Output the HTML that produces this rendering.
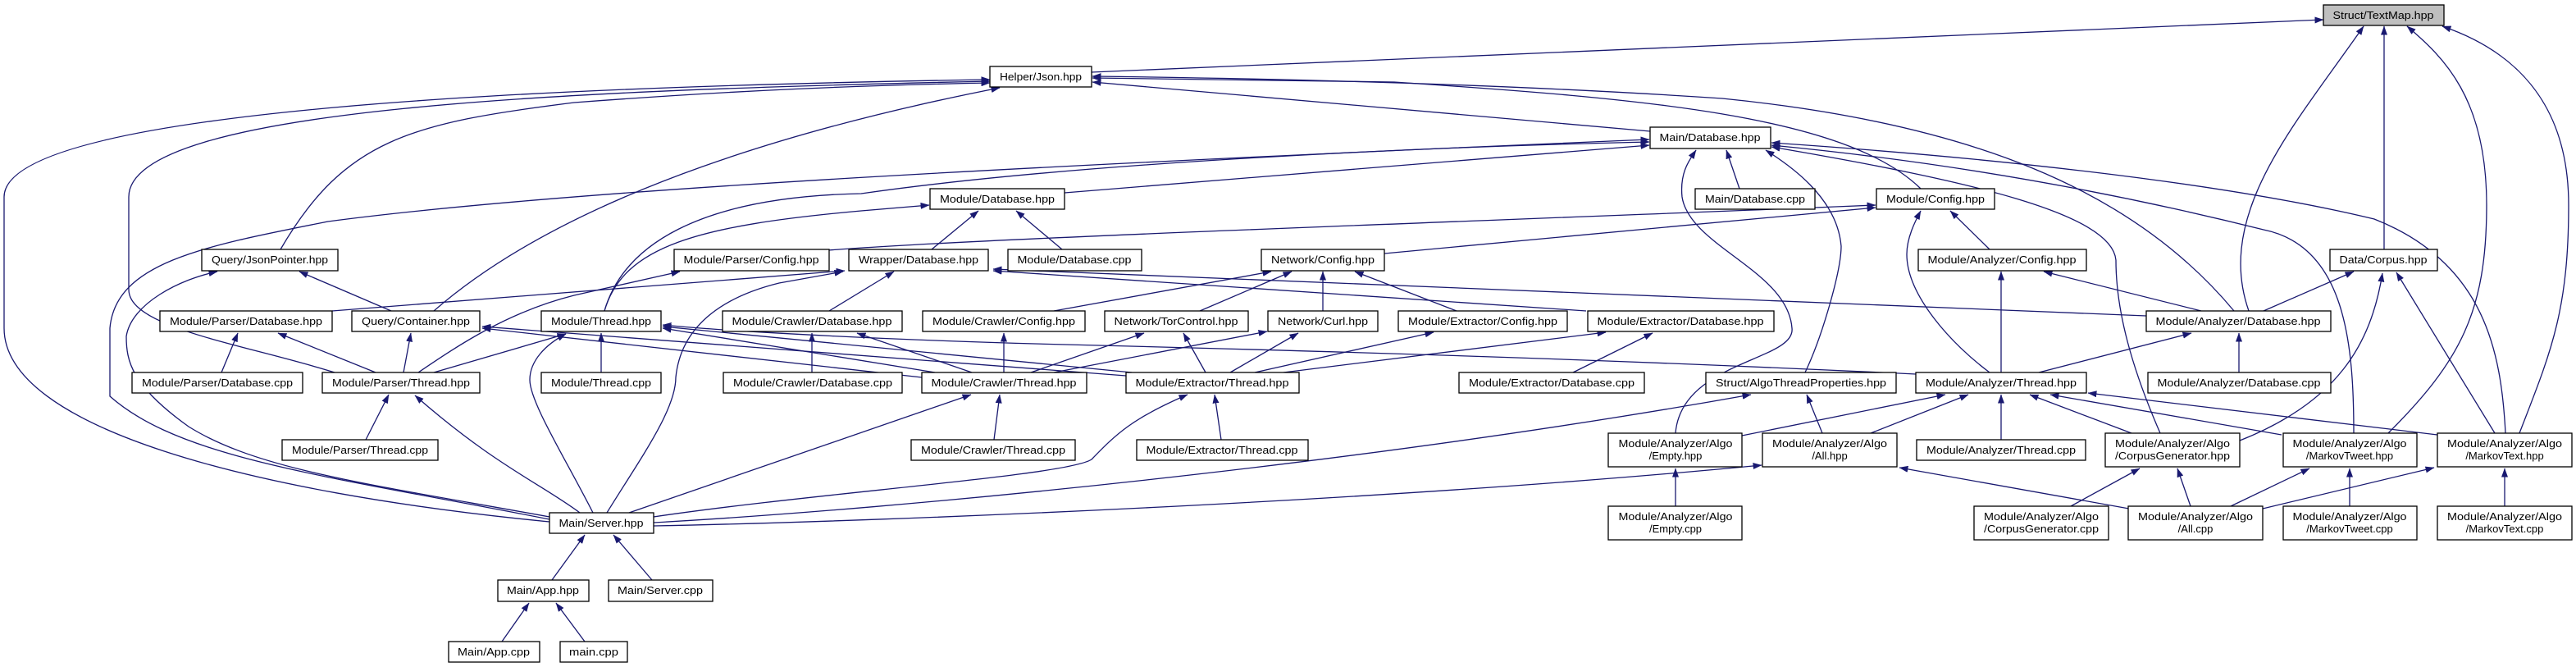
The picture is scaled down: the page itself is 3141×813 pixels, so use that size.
<!DOCTYPE html>
<html><head><meta charset="utf-8"><style>
html,body{margin:0;padding:0;background:#fff;}
svg{display:block;}
text{font-family:"Liberation Sans",sans-serif;font-size:13px;fill:#000;}
</style></head><body>
<svg width="3141" height="813" viewBox="0 0 3141 813" xmlns="http://www.w3.org/2000/svg">
<defs>
<marker id="a" markerWidth="11" markerHeight="8" refX="10.5" refY="4" orient="auto" markerUnits="userSpaceOnUse">
<path d="M0,0 L11,4 L0,8 Z" fill="#191970"/>
</marker>
</defs>
<g fill="none" stroke="#191970" stroke-width="1.3" marker-end="url(#a)">
<!-- TextMap -->
<path d="M1331,88 L2833,24"/>
<path d="M2907,304 L2907,32"/>
<path d="M2742,379 C2700,260 2800,150 2882,32"/>
<path d="M2912,528 C3000,440 3032,380 3032,250 C3032,120 2980,70 2935,32"/>
<path d="M3072,528 C3110,430 3132,380 3132,250 C3132,120 3060,60 2978,32"/>
<!-- Json -->
<path d="M670,636 C300,600 5,520 5,400 L5,240 C5,130 700,105 1207,97"/>
<path d="M408,454 C300,420 157,400 157,353 L157,240 C157,130 700,110 1207,99"/>
<path d="M342,304 C420,170 500,150 700,125 C900,110 1050,104 1207,101"/>
<path d="M529,379 C700,230 1000,150 1219,107"/>
<path d="M2012,160 L1332,100"/>
<path d="M2342,230 C2250,140 2000,120 1700,100 L1332,95"/>
<path d="M2724,379 C2600,230 2400,150 2100,120 C1800,100 1500,95 1332,93"/>
<!-- MainDB -->
<path d="M1298,235 L2011,177"/>
<path d="M737,379 C760,300 850,240 1050,236 C1300,200 1700,180 2011,173"/>
<path d="M670,633 C400,580 221,560 134,483 L134,400 C141,320 248,300 400,270 C700,230 1300,200 2011,170"/>
<path d="M2121,230 L2105,183"/>
<path d="M2201,454 C2222,410 2245,330 2245,300 C2240,240 2180,200 2153,183"/>
<path d="M2043,528 C2050,440 2190,440 2185,400 C2180,330 2060,300 2051,240 C2048,210 2060,195 2068,183"/>
<path d="M2634,528 C2600,450 2580,380 2580,317 C2575,260 2400,220 2160,179"/>
<path d="M2870,528 C2870,420 2860,300 2760,280 C2600,240 2400,200 2160,177"/>
<path d="M3055,528 C3050,430 3030,320 2895,267 C2700,220 2400,190 2160,174"/>
<!-- ModDB -->
<path d="M1136,304 L1193,257"/>
<path d="M1295,304 L1239,257"/>
<path d="M737,379 C760,300 850,275 1050,257 L1133,250"/>
<!-- ModConfig -->
<path d="M1010,305 C1200,290 1800,270 2287,250"/>
<path d="M1688,309 L2287,253"/>
<path d="M2426,304 L2378,257"/>
<path d="M2426,454 C2380,420 2325,360 2325,310 C2325,290 2335,270 2342,257"/>
<!-- NetConfig -->
<path d="M1285,379 L1550,331"/>
<path d="M1463,379 L1575,331"/>
<path d="M1613,379 L1613,331"/>
<path d="M1776,379 L1652,331"/>
<!-- Wrapper -->
<path d="M405,379 L1030,330"/>
<path d="M1011,379 L1090,331"/>
<path d="M1934,379 L1211,330"/>
<path d="M2617,385 L1211,328"/>
<path d="M740,625 C780,560 824,500 824,460 C830,400 877,363 950,345 L1028,331"/>
<!-- ParserConfig -->
<path d="M510,454 C560,420 620,380 700,360 L829,331"/>
<!-- JsonPointer / Container -->
<path d="M477,379 L365,331"/>
<path d="M670,630 C450,590 315,573 230,520 C160,470 154,440 154,410 C160,370 220,340 265,331"/>
<path d="M492,454 L501,406"/>
<path d="M1124,460 L588,400"/>
<path d="M1373,458 L588,398"/>
<!-- ParserDB -->
<path d="M270,454 L290,406"/>
<path d="M458,454 L339,406"/>
<!-- ModThread -->
<path d="M529,454 L690,407"/>
<path d="M733,454 L733,406"/>
<path d="M723,625 C690,560 646,490 646,463 C646,440 665,420 690,407"/>
<path d="M1140,454 L808,400"/>
<path d="M1380,454 L808,398"/>
<path d="M2336,456 C2000,440 1700,430 1300,420 C1100,415 900,405 808,396"/>
<!-- CrawlerDB etc -->
<path d="M990,454 L990,406"/>
<path d="M1185,454 L1045,406"/>
<path d="M1224,454 L1224,406"/>
<path d="M1257,454 L1395,406"/>
<path d="M1285,454 L1545,404"/>
<path d="M1212,536 L1219,481"/>
<path d="M1470,454 L1443,406"/>
<path d="M1500,454 L1583,406"/>
<path d="M1530,454 L1748,405"/>
<path d="M1565,454 L1958,405"/>
<path d="M1918,454 L2015,406"/>
<path d="M1489,536 L1481,481"/>
<!-- Server to middle -->
<path d="M707,625 C660,590 603,567 506,482"/>
<path d="M767,625 L1184,481"/>
<path d="M797,630 C1000,600 1300,580 1331,560 C1360,530 1380,510 1448,481"/>
<path d="M797,637 C1100,620 1653,567 2135,481"/>
<path d="M797,641 C1100,635 1700,610 2148,567"/>
<!-- Analyzer -->
<path d="M2486,454 L2672,406"/>
<path d="M2730,454 L2730,406"/>
<path d="M2440,454 L2440,331"/>
<path d="M2684,379 L2492,331"/>
<path d="M2760,379 L2870,331"/>
<path d="M3042,528 L2922,332"/>
<path d="M2731,537 C2850,490 2891,420 2905,333"/>
<path d="M2124,531 L2372,481"/>
<path d="M2281,528 L2400,481"/>
<path d="M2440,536 L2440,481"/>
<path d="M2599,528 L2475,481"/>
<path d="M2782,530 L2500,481"/>
<path d="M2972,530 L2546,479"/>
<path d="M2222,528 L2203,481"/>
<path d="M2043,617 L2043,571"/>
<path d="M2525,617 L2609,571"/>
<path d="M2596,620 L2316,570"/>
<path d="M2671,617 L2655,571"/>
<path d="M2720,617 L2816,571"/>
<path d="M2759,620 L2968,570"/>
<path d="M2865,617 L2865,571"/>
<path d="M3054,617 L3054,571"/>
<!-- Bottom -->
<path d="M446,536 L474,481"/>
<path d="M673,707 L713,652"/>
<path d="M795,707 L748,652"/>
<path d="M612,782 L645,735"/>
<path d="M713,782 L678,735"/>
</g>
<g stroke="#000" stroke-width="1.3" fill="#fff">
<rect x="2833" y="6" width="147" height="25" fill="#bfbfbf"/>
<rect x="1207" y="81" width="124" height="25"/>
<rect x="2012" y="155" width="147" height="26"/>
<rect x="1134" y="230" width="164" height="25"/>
<rect x="2067" y="230" width="146" height="25"/>
<rect x="2288" y="230" width="144" height="25"/>
<rect x="246" y="304" width="166" height="26"/>
<rect x="822" y="304" width="189" height="26"/>
<rect x="1035" y="304" width="170" height="26"/>
<rect x="1229" y="304" width="163" height="26"/>
<rect x="1538" y="304" width="150" height="26"/>
<rect x="2339" y="304" width="205" height="26"/>
<rect x="2841" y="304" width="131" height="26"/>
<rect x="195" y="379" width="210" height="25"/>
<rect x="429" y="379" width="156" height="25"/>
<rect x="660" y="379" width="146" height="25"/>
<rect x="881" y="379" width="219" height="25"/>
<rect x="1125" y="379" width="198" height="25"/>
<rect x="1347" y="379" width="175" height="25"/>
<rect x="1546" y="379" width="134" height="25"/>
<rect x="1705" y="379" width="206" height="25"/>
<rect x="1936" y="379" width="227" height="25"/>
<rect x="2617" y="379" width="225" height="25"/>
<rect x="161" y="454" width="208" height="25"/>
<rect x="393" y="454" width="192" height="25"/>
<rect x="660" y="454" width="146" height="25"/>
<rect x="882" y="454" width="218" height="25"/>
<rect x="1124" y="454" width="201" height="25"/>
<rect x="1373" y="454" width="211" height="25"/>
<rect x="1779" y="454" width="226" height="25"/>
<rect x="2080" y="454" width="232" height="25"/>
<rect x="2336" y="454" width="208" height="25"/>
<rect x="2619" y="454" width="223" height="25"/>
<rect x="344" y="536" width="190" height="25"/>
<rect x="1111" y="536" width="200" height="25"/>
<rect x="1386" y="536" width="209" height="25"/>
<rect x="2337" y="536" width="206" height="25"/>
<rect x="1961" y="528" width="163" height="41"/>
<rect x="2149" y="528" width="164" height="41"/>
<rect x="2567" y="528" width="164" height="41"/>
<rect x="2784" y="528" width="163" height="41"/>
<rect x="2972" y="528" width="164" height="41"/>
<rect x="670" y="625" width="127" height="25"/>
<rect x="1961" y="617" width="163" height="41"/>
<rect x="2407" y="617" width="164" height="41"/>
<rect x="2595" y="617" width="164" height="41"/>
<rect x="2784" y="617" width="163" height="41"/>
<rect x="2972" y="617" width="164" height="41"/>
<rect x="607" y="707" width="111" height="26"/>
<rect x="742" y="707" width="127" height="26"/>
<rect x="547" y="782" width="111" height="25"/>
<rect x="683" y="782" width="82" height="25"/>
</g>
<g text-anchor="middle" lengthAdjust="spacingAndGlyphs">
<text x="2906" y="23" textLength="123" lengthAdjust="spacingAndGlyphs">Struct/TextMap.hpp</text>
<text x="1269" y="98" textLength="100" lengthAdjust="spacingAndGlyphs">Helper/Json.hpp</text>
<text x="2085" y="172" textLength="123" lengthAdjust="spacingAndGlyphs">Main/Database.hpp</text>
<text x="1216" y="247" textLength="140" lengthAdjust="spacingAndGlyphs">Module/Database.hpp</text>
<text x="2140" y="247" textLength="122" lengthAdjust="spacingAndGlyphs">Main/Database.cpp</text>
<text x="2360" y="247" textLength="120" lengthAdjust="spacingAndGlyphs">Module/Config.hpp</text>
<text x="329" y="321" textLength="142" lengthAdjust="spacingAndGlyphs">Query/JsonPointer.hpp</text>
<text x="916" y="321" textLength="165" lengthAdjust="spacingAndGlyphs">Module/Parser/Config.hpp</text>
<text x="1120" y="321" textLength="146" lengthAdjust="spacingAndGlyphs">Wrapper/Database.hpp</text>
<text x="1310" y="321" textLength="139" lengthAdjust="spacingAndGlyphs">Module/Database.cpp</text>
<text x="1613" y="321" textLength="126" lengthAdjust="spacingAndGlyphs">Network/Config.hpp</text>
<text x="2441" y="321" textLength="181" lengthAdjust="spacingAndGlyphs">Module/Analyzer/Config.hpp</text>
<text x="2906" y="321" textLength="107" lengthAdjust="spacingAndGlyphs">Data/Corpus.hpp</text>
<text x="300" y="396" textLength="186" lengthAdjust="spacingAndGlyphs">Module/Parser/Database.hpp</text>
<text x="507" y="396" textLength="132" lengthAdjust="spacingAndGlyphs">Query/Container.hpp</text>
<text x="733" y="396" textLength="122" lengthAdjust="spacingAndGlyphs">Module/Thread.hpp</text>
<text x="990" y="396" textLength="195" lengthAdjust="spacingAndGlyphs">Module/Crawler/Database.hpp</text>
<text x="1224" y="396" textLength="174" lengthAdjust="spacingAndGlyphs">Module/Crawler/Config.hpp</text>
<text x="1434" y="396" textLength="151" lengthAdjust="spacingAndGlyphs">Network/TorControl.hpp</text>
<text x="1613" y="396" textLength="110" lengthAdjust="spacingAndGlyphs">Network/Curl.hpp</text>
<text x="1808" y="396" textLength="182" lengthAdjust="spacingAndGlyphs">Module/Extractor/Config.hpp</text>
<text x="2049" y="396" textLength="203" lengthAdjust="spacingAndGlyphs">Module/Extractor/Database.hpp</text>
<text x="2729" y="396" textLength="201" lengthAdjust="spacingAndGlyphs">Module/Analyzer/Database.hpp</text>
<text x="265" y="471" textLength="184" lengthAdjust="spacingAndGlyphs">Module/Parser/Database.cpp</text>
<text x="489" y="471" textLength="168" lengthAdjust="spacingAndGlyphs">Module/Parser/Thread.hpp</text>
<text x="733" y="471" textLength="122" lengthAdjust="spacingAndGlyphs">Module/Thread.cpp</text>
<text x="991" y="471" textLength="194" lengthAdjust="spacingAndGlyphs">Module/Crawler/Database.cpp</text>
<text x="1224" y="471" textLength="177" lengthAdjust="spacingAndGlyphs">Module/Crawler/Thread.hpp</text>
<text x="1478" y="471" textLength="187" lengthAdjust="spacingAndGlyphs">Module/Extractor/Thread.hpp</text>
<text x="1892" y="471" textLength="202" lengthAdjust="spacingAndGlyphs">Module/Extractor/Database.cpp</text>
<text x="2196" y="471" textLength="208" lengthAdjust="spacingAndGlyphs">Struct/AlgoThreadProperties.hpp</text>
<text x="2440" y="471" textLength="184" lengthAdjust="spacingAndGlyphs">Module/Analyzer/Thread.hpp</text>
<text x="2730" y="471" textLength="199" lengthAdjust="spacingAndGlyphs">Module/Analyzer/Database.cpp</text>
<text x="439" y="553" textLength="166" lengthAdjust="spacingAndGlyphs">Module/Parser/Thread.cpp</text>
<text x="1211" y="553" textLength="176" lengthAdjust="spacingAndGlyphs">Module/Crawler/Thread.cpp</text>
<text x="1490" y="553" textLength="185" lengthAdjust="spacingAndGlyphs">Module/Extractor/Thread.cpp</text>
<text x="2440" y="553" textLength="182" lengthAdjust="spacingAndGlyphs">Module/Analyzer/Thread.cpp</text>
<text x="2043" y="545" textLength="139" lengthAdjust="spacingAndGlyphs">Module/Analyzer/Algo</text>
<text x="2043" y="560">/Empty.hpp</text>
<text x="2231" y="545" textLength="140" lengthAdjust="spacingAndGlyphs">Module/Analyzer/Algo</text>
<text x="2231" y="560">/All.hpp</text>
<text x="2649" y="545" textLength="140" lengthAdjust="spacingAndGlyphs">Module/Analyzer/Algo</text>
<text x="2649" y="560" textLength="140" lengthAdjust="spacingAndGlyphs">/CorpusGenerator.hpp</text>
<text x="2865" y="545" textLength="139" lengthAdjust="spacingAndGlyphs">Module/Analyzer/Algo</text>
<text x="2865" y="560">/MarkovTweet.hpp</text>
<text x="3054" y="545" textLength="140" lengthAdjust="spacingAndGlyphs">Module/Analyzer/Algo</text>
<text x="3054" y="560">/MarkovText.hpp</text>
<text x="733" y="642" textLength="103" lengthAdjust="spacingAndGlyphs">Main/Server.hpp</text>
<text x="2043" y="634" textLength="139" lengthAdjust="spacingAndGlyphs">Module/Analyzer/Algo</text>
<text x="2043" y="649">/Empty.cpp</text>
<text x="2489" y="634" textLength="140" lengthAdjust="spacingAndGlyphs">Module/Analyzer/Algo</text>
<text x="2489" y="649" textLength="140" lengthAdjust="spacingAndGlyphs">/CorpusGenerator.cpp</text>
<text x="2677" y="634" textLength="140" lengthAdjust="spacingAndGlyphs">Module/Analyzer/Algo</text>
<text x="2677" y="649">/All.cpp</text>
<text x="2865" y="634" textLength="139" lengthAdjust="spacingAndGlyphs">Module/Analyzer/Algo</text>
<text x="2865" y="649">/MarkovTweet.cpp</text>
<text x="3054" y="634" textLength="140" lengthAdjust="spacingAndGlyphs">Module/Analyzer/Algo</text>
<text x="3054" y="649">/MarkovText.cpp</text>
<text x="662" y="724" textLength="88" lengthAdjust="spacingAndGlyphs">Main/App.hpp</text>
<text x="805" y="724" textLength="104" lengthAdjust="spacingAndGlyphs">Main/Server.cpp</text>
<text x="602" y="799" textLength="88" lengthAdjust="spacingAndGlyphs">Main/App.cpp</text>
<text x="724" y="799" textLength="60" lengthAdjust="spacingAndGlyphs">main.cpp</text>
</g>
</svg>
</body></html>
